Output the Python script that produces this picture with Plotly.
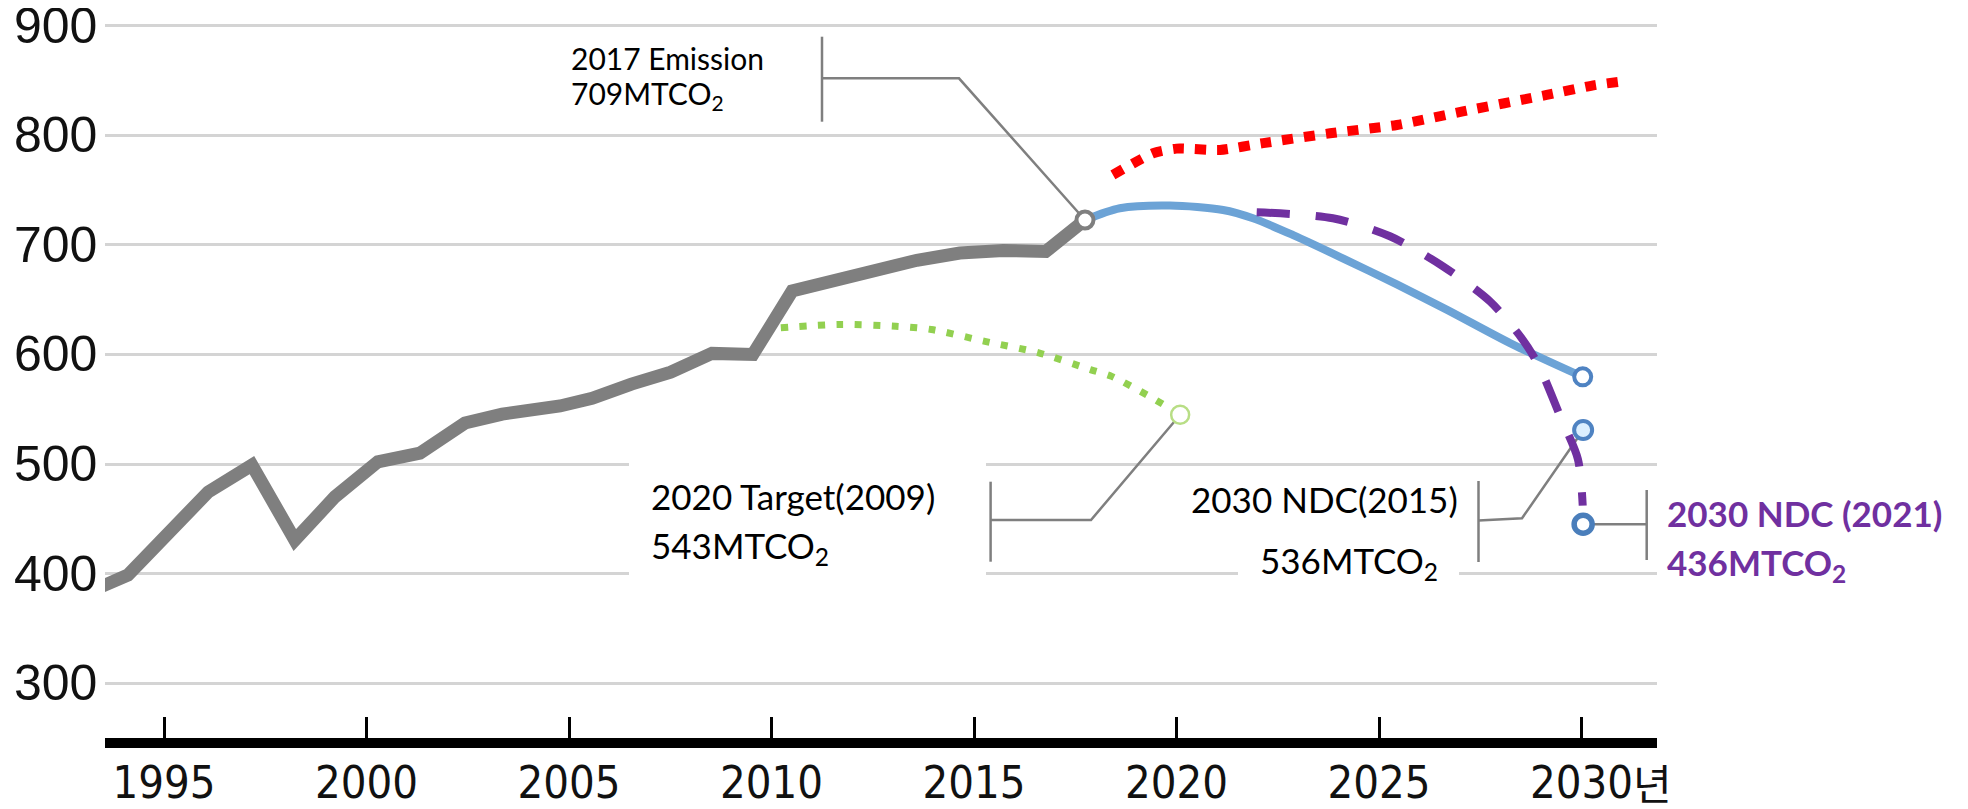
import plotly.graph_objects as go

# ---------------- data ----------------
# Historical emissions (grey line), MtCO2
hist_year = [1993.2, 1994.11, 1996.09, 1997.17, 1998.23, 1999.22, 2000.28, 2001.32,
             2002.43, 2003.35, 2004.78, 2005.57, 2006.54, 2007.51, 2008.53, 2009.54,
             2010.51, 2011.47, 2012.63, 2013.59, 2014.65, 2015.72, 2016.77, 2017.74]
hist_emis = [384, 398.6, 474.4, 499, 430.6, 470, 502, 510,
             537.4, 545.6, 553, 560, 573, 583.8, 601, 600,
             658, 666.8, 675.9, 686, 692.7, 695, 694, 722.8]

# BAU projection (red dotted)
bau_year = [2018.43, 2019.42, 2020.0, 2021.07, 2022.14, 2023.79, 2025.44, 2027.07, 2029.14, 2030.33, 2030.93]
bau_emis = [764, 783.7, 788, 786.8, 793, 802, 809.6, 822, 837, 846, 849]

# 2030 NDC (2015) pathway (blue)
ndc15_year = [2017.74, 2018.6, 2019.84, 2021.15, 2021.89, 2022.88, 2024.04, 2025.44, 2026.67, 2028.31, 2030.03]
ndc15_emis = [722.8, 733.5, 736, 732, 724.4, 709, 689, 664, 641, 609, 579.6]

# 2020 target (2009) pathway (green dotted)
t2020_year = [2010.23, 2011.66, 2013.07, 2013.95, 2015.27, 2016.6, 2017.89, 2018.4, 2019.32, 2020.09]
t2020_emis = [624.4, 627.4, 625.8, 622.8, 612, 601.5, 586, 580, 562, 545]

# 2030 NDC (2021) pathway (purple dashed)
ndc21_year = [2021.98, 2023.86, 2025.27, 2026.58, 2027.74, 2028.52, 2028.93, 2029.47, 2029.91, 2030.03]
ndc21_emis = [729.9, 724.4, 708, 680.5, 648.5, 615, 591, 544, 504.6, 462]

# 2030 target points
target_year = 2030.04
ndc15_target = 531
ndc21_target = 445

x_tickvals = [1995, 2000, 2005, 2010, 2015, 2020, 2025, 2030]
x_ticktext = ["1995", "2000", "2005", "2010", "2015", "2020", "2025", "2030"]
y_tickvals = [300, 400, 500, 600, 700, 800, 900]
y_ticktext = ["300", "400", "500", "600", "700", "800", "900"]

label_2017 = ["2017 Emission", "709MTCO<sub>2</sub>"]
label_2020 = ["2020 Target(2009)", "543MTCO<sub>2</sub>"]
label_ndc15 = ["2030 NDC(2015)", "536MTCO<sub>2</sub>"]
label_ndc21 = ["2030 NDC (2021)", "436MTCO<sub>2</sub>"]
year_unit = "년"

# ---------------- layout geometry (screen pixels) ----------------
OFF = 8                      # page body margin
W, H = 1968 - OFF, 809 - OFF
SL, SR, ST, SB = 105, 1657, 8, 738           # plot area on screen
XR = [1993.543, 2031.864]
YR = [249.8, 916.4]


def px_x(px):
    return XR[0] + (px - SL) / (SR - SL) * (XR[1] - XR[0])


def px_y(py):
    return YR[1] - (py - ST) / (SB - ST) * (YR[1] - YR[0])


def paper_x(px):
    return (px - SL) / (SR - SL)


def paper_y(py):
    return (SB - py) / (SB - ST)


GREY = "#7f7f7f"
RED = "#ff0000"
BLUE_LINE = "#6ca3d6"
BLUE_MK = "#4f83c2"
PURPLE = "#7030a0"
GREEN = "#92d050"

fig = go.Figure()

# pathways
fig.add_trace(go.Scatter(x=hist_year, y=hist_emis, mode="lines",
                         line=dict(color=GREY, width=13), hoverinfo="skip"))
fig.add_trace(go.Scatter(x=t2020_year, y=t2020_emis, mode="lines",
                         line=dict(color=GREEN, width=7, dash="7px,11.5px", shape="spline", smoothing=0.8),
                         hoverinfo="skip"))
fig.add_trace(go.Scatter(x=bau_year, y=bau_emis, mode="lines",
                         line=dict(color=RED, width=10, dash="11px,11px", shape="spline", smoothing=0.6),
                         hoverinfo="skip"))
fig.add_trace(go.Scatter(x=ndc15_year, y=ndc15_emis, mode="lines",
                         line=dict(color=BLUE_LINE, width=8, shape="spline", smoothing=0.8),
                         hoverinfo="skip"))
fig.add_trace(go.Scatter(x=ndc21_year, y=ndc21_emis, mode="lines",
                         line=dict(color=PURPLE, width=8, dash="33px,26px", shape="spline", smoothing=0.8),
                         hoverinfo="skip"))

# markers
fig.add_trace(go.Scatter(x=[t2020_year[-1]], y=[t2020_emis[-1]], mode="markers",
                         marker=dict(size=18, color="white", line=dict(color="#b8de85", width=2.5)),
                         hoverinfo="skip"))
fig.add_trace(go.Scatter(x=[hist_year[-1]], y=[hist_emis[-1]], mode="markers",
                         marker=dict(size=17, color="white", line=dict(color=GREY, width=4)),
                         hoverinfo="skip"))
fig.add_trace(go.Scatter(x=[ndc15_year[-1]], y=[ndc15_emis[-1]], mode="markers",
                         marker=dict(size=17, color="white", line=dict(color=BLUE_MK, width=4)),
                         hoverinfo="skip"))
fig.add_trace(go.Scatter(x=[target_year], y=[ndc15_target], mode="markers",
                         marker=dict(size=18, color="#dcefff", line=dict(color=BLUE_MK, width=4)),
                         hoverinfo="skip"))
fig.add_trace(go.Scatter(x=[target_year], y=[ndc21_target], mode="markers",
                         marker=dict(size=18, color="white", line=dict(color="#4a7ebb", width=5.5)),
                         hoverinfo="skip"))

shapes = []
# white boxes behind labels (hide gridlines)
for (x0, y0, x1, y1) in [(629, 458, 986, 580), (1238, 545, 1459, 600)]:
    shapes.append(dict(type="rect", xref="x", yref="y", layer="between",
                       x0=px_x(x0), x1=px_x(x1), y0=px_y(y1), y1=px_y(y0),
                       fillcolor="white", line=dict(width=0)))

# thick black x-axis bar
shapes.append(dict(type="rect", xref="paper", yref="paper", layer="above",
                   x0=0, x1=1, y0=paper_y(748), y1=paper_y(738),
                   fillcolor="black", line=dict(width=0)))


def seg(points):
    return "M " + " L ".join(f"{x},{y}" for x, y in points)


conn = dict(color=GREY, width=2.5)
# 2017 emission connector
shapes.append(dict(type="path", xref="x", yref="y", layer="between", line=conn,
                   path=seg([(px_x(822), px_y(36.7)), (px_x(822), px_y(121.7))])))
shapes.append(dict(type="path", xref="x", yref="y", layer="between", line=conn,
                   path=seg([(px_x(822), px_y(78.3)), (px_x(959), px_y(78.3)),
                             (hist_year[-1], hist_emis[-1])])))
# 2020 target connector
shapes.append(dict(type="path", xref="x", yref="y", layer="between", line=conn,
                   path=seg([(px_x(990.6), px_y(481.7)), (px_x(990.6), px_y(561.7))])))
shapes.append(dict(type="path", xref="x", yref="y", layer="between", line=conn,
                   path=seg([(px_x(990.6), px_y(520)), (px_x(1091), px_y(520)),
                             (t2020_year[-1], t2020_emis[-1])])))
# 2030 NDC (2015) connector
shapes.append(dict(type="path", xref="x", yref="y", layer="between", line=conn,
                   path=seg([(px_x(1478.5), px_y(481)), (px_x(1478.5), px_y(562))])))
shapes.append(dict(type="path", xref="x", yref="y", layer="between", line=conn,
                   path=seg([(px_x(1478.5), px_y(520.5)), (px_x(1522), px_y(518.3)),
                             (target_year, ndc15_target)])))
# 2030 NDC (2021) connector
shapes.append(dict(type="path", xref="x", yref="y", layer="above", line=conn,
                   path=seg([(px_x(1646.7), px_y(490)), (px_x(1646.7), px_y(560))])))
shapes.append(dict(type="path", xref="x", yref="y", layer="below", line=conn,
                   path=seg([(target_year, ndc21_target), (px_x(1646.7), ndc21_target)])))

TXT = "Lato, 'Open Sans', sans-serif"
ann = []


def label(text, left_px, center_px, size, color="#000000", bold=False):
    ann.append(dict(x=paper_x(left_px), y=paper_y(center_px), xref="paper", yref="paper",
                    text=f"<b>{text}</b>" if bold else text, showarrow=False,
                    xanchor="left", yanchor="middle", align="left",
                    font=dict(family=TXT, size=size, color=color)))


label(label_2017[0], 569, 58, 30)
label(label_2017[1], 569, 95, 30)
label(label_2020[0], 649, 496, 35)
label(label_2020[1], 649, 547, 35)
label(label_ndc15[0], 1189, 499, 35)
label(label_ndc15[1], 1258, 562, 35)
label(label_ndc21[0], 1665, 513, 35, PURPLE, True)
label(label_ndc21[1], 1665, 564, 35, PURPLE, True)

# y-axis value labels (drawn as annotations so the top one is not dropped at the edge)
for v, t in zip(y_tickvals, y_ticktext):
    ann.append(dict(x=paper_x(99), y=v, xref="paper", yref="y", text=t,
                    showarrow=False, xanchor="right", yanchor="middle",
                    font=dict(family="'Liberation Sans', Arial, sans-serif", size=50, color="#111111")))

ann.append(dict(x=paper_x(1631), y=paper_y(781), xref="paper", yref="paper", text=year_unit,
                showarrow=False, xanchor="left", yanchor="middle",
                font=dict(family="'Noto Sans CJK KR', sans-serif", size=42, color="#111111")))

fig.update_layout(
    width=W, height=H,
    margin=dict(l=SL - OFF, r=W - (SR - OFF), t=ST - OFF, b=H - (SB - OFF), pad=0),
    plot_bgcolor="white", paper_bgcolor="white",
    showlegend=False,
    shapes=shapes, annotations=ann,
    xaxis=dict(range=XR, tickvals=x_tickvals, ticktext=x_ticktext, automargin=False,
               showgrid=False, zeroline=False, showline=False,
               ticks="inside", ticklen=21, tickwidth=3, tickcolor="black",
               ticklabelstandoff=14,
               tickfont=dict(family="'Liberation Sans Narrow', 'DejaVu Sans Condensed', 'Roboto Condensed', Roboto, sans-serif",
                             size=45, color="#111111"),
               fixedrange=True),
    yaxis=dict(range=YR, tickvals=y_tickvals, automargin=False,
               showgrid=True, gridcolor="#d4d4d4", gridwidth=3,
               zeroline=False, showline=False, ticks="", showticklabels=False,
               fixedrange=True),
)

fig.write_html("out.html")
